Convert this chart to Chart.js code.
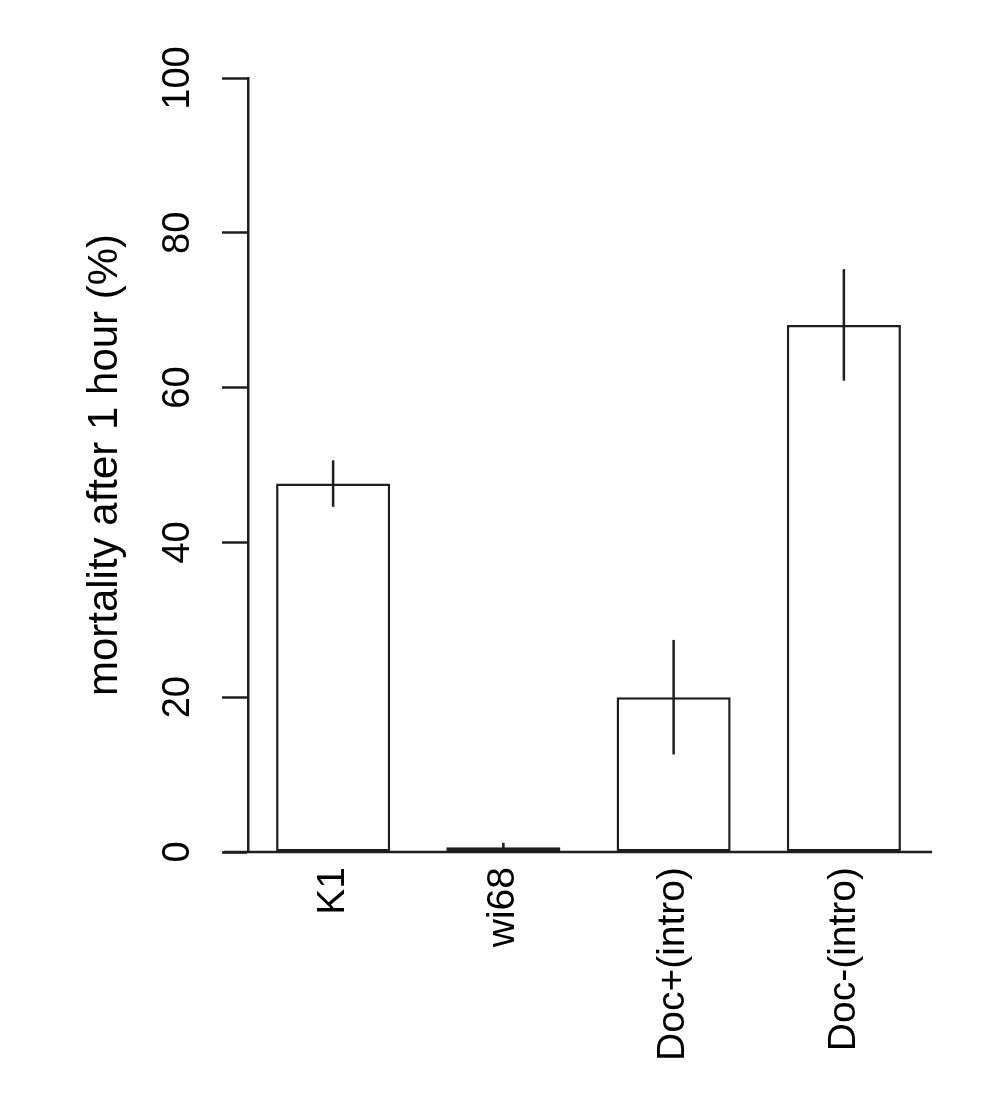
<!DOCTYPE html>
<html>
<head>
<meta charset="utf-8">
<script src="https://cdn.jsdelivr.net/npm/chart.js@4/dist/chart.umd.min.js"></script>
<style>
  html, body { margin: 0; padding: 0; background: #fff; }
  #wrap { width: 1004px; height: 1106px; }
</style>
</head>
<body>
<div id="wrap"><canvas id="barChart"></canvas></div>
<script>
// data
const strains = ["K1", "wi68", "Doc+(intro)", "Doc-(intro)"];
const mortality = [47.6, 0.6, 20.0, 68.1];
const errLow = [44.6, 0.1, 12.6, 60.9];
const errHigh = [50.6, 1.2, 27.4, 75.3];
const yTicks = [0, 20, 40, 60, 80, 100];

const ink = "#1e1e1e";
const fontFamily = "'Liberation Sans', Arial, Helvetica, sans-serif";

// vertical error lines, no caps
const errorBars = {
  id: "errorBars",
  afterDatasetsDraw(chart) {
    const c = chart.ctx;
    const y = chart.scales.y;
    const meta = chart.getDatasetMeta(0);
    c.save();
    c.strokeStyle = ink;
    c.lineWidth = 2.5;
    meta.data.forEach((bar, i) => {
      c.beginPath();
      c.moveTo(bar.x, y.getPixelForValue(errLow[i]));
      c.lineTo(bar.x, y.getPixelForValue(errHigh[i]));
      c.stroke();
    });
    c.restore();
  }
};

// horizontal baseline at 0, running a bit past both ends of the plot
const baseline = {
  id: "baseline",
  afterDraw(chart) {
    const c = chart.ctx;
    const area = chart.chartArea;
    const y0 = chart.scales.y.getPixelForValue(0);
    c.save();
    c.strokeStyle = ink;
    c.lineWidth = 2.5;
    c.beginPath();
    c.moveTo(area.left - 24, y0);
    c.lineTo(area.right + 3, y0);
    c.stroke();
    c.restore();
  }
};

const chart = new Chart(document.getElementById("barChart"), {
  type: "bar",
  data: {
    labels: strains,
    datasets: [{
      data: mortality,
      backgroundColor: "#ffffff",
      borderColor: ink,
      borderWidth: 2.5,
      borderSkipped: false,
      categoryPercentage: 1,
      barPercentage: 0.67
    }]
  },
  options: {
    responsive: true,
    maintainAspectRatio: false,
    animation: false,
    devicePixelRatio: 1,
    layout: { padding: { top: 78, right: 75, left: 0, bottom: 0 } },
    plugins: {
      legend: { display: false },
      tooltip: { enabled: false }
    },
    scales: {
      x: {
        grid: { display: false, drawTicks: false },
        border: { display: false },
        ticks: {
          color: "#000",
          font: { family: fontFamily, size: 39 },
          minRotation: 90,
          maxRotation: 90,
          padding: 15,
          autoSkip: false
        },
        afterFit(scale) { scale.height = 254; }
      },
      y: {
        min: 0,
        max: 100,
        afterBuildTicks(scale) { scale.ticks = yTicks.map(v => ({ value: v })); },
        grid: {
          drawOnChartArea: false,
          drawTicks: true,
          tickLength: 26,
          tickWidth: 2.5,
          tickColor: ink
        },
        border: { display: true, color: ink, width: 2.5 },
        ticks: {
          color: "#000",
          font: { family: fontFamily, size: 38 },
          minRotation: 90,
          maxRotation: 90,
          crossAlign: "center",
          padding: 12
        },
        title: {
          display: true,
          text: "mortality after 1 hour (%)",
          color: "#000",
          font: { family: fontFamily, size: 42 },
          padding: { top: 80, bottom: 0 }
        },
        afterFit(scale) { scale.width = 248; }
      }
    }
  },
  plugins: [errorBars, baseline]
});
</script>
</body>
</html>
